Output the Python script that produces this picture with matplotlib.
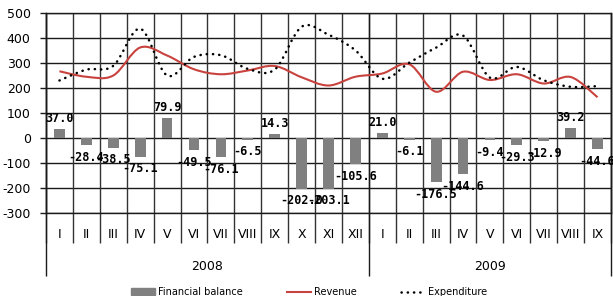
import numpy as np
import matplotlib.pyplot as plt
from matplotlib.path import Path
from matplotlib.patches import PathPatch, Patch
from matplotlib.lines import Line2D

plt.rcParams["axes.unicode_minus"] = False

# months, 2008 I..XII and 2009 I..IX
months = ["I", "II", "III", "IV", "V", "VI", "VII", "VIII", "IX", "X", "XI", "XII",
          "I", "II", "III", "IV", "V", "VI", "VII", "VIII", "IX"]
years = ["2008", "2009"]
year_len = [12, 9]

balance = [37.0, -28.4, -38.5, -75.1, 79.9, -49.5, -76.1, -6.5, 14.3, -202.0, -203.1, -105.6,
           21.0, -6.1, -176.5, -144.6, -9.4, -29.3, -12.9, 39.2, -44.6]
revenue = [267, 245, 250, 362, 330, 275, 255, 270, 288, 243, 210, 245,
           258, 295, 185, 265, 232, 255, 218, 244, 163]
expenditure = [230, 273.4, 288.5, 437.1, 250.1, 324.5, 331.1, 276.5, 273.7, 445, 413.1, 350.6,
               237, 301.1, 361.5, 409.6, 241.4, 284.3, 230.9, 204.8, 207.6]

RED = "#C8423E"
GREY = "#808080"
LINE = "#1a1a1a"
VLINE = "#333333"


def smooth_path(x, y):
    # excel-like smoothed line, drawn as bezier segments
    pts = np.column_stack([x, y]).astype(float)
    n = len(pts)
    verts = [pts[0]]
    codes = [Path.MOVETO]
    for i in range(n - 1):
        p0 = pts[max(i - 1, 0)]
        p1 = pts[i]
        p2 = pts[i + 1]
        p3 = pts[min(i + 2, n - 1)]
        verts += [p1 + (p2 - p0) / 6, p2 - (p3 - p1) / 6, p2]
        codes += [Path.CURVE4] * 3
    return Path(verts, codes)


W, H = 613, 296
fig = plt.figure(figsize=(W / 100, H / 100), dpi=100)
ax = fig.add_axes([46 / W, 1 - 213 / H, (611 - 46) / W, 200 / H])

x = np.arange(len(months))
ax.set_xlim(-0.5, len(months) - 0.5)
ax.set_ylim(-300, 500)
ax.set_yticks(np.arange(-300, 501, 100))
ax.tick_params(axis="y", labelsize=9, length=4, width=1, color=LINE, pad=7)
ax.set_xticks([])
ax.yaxis.grid(True, color=LINE, lw=1)
ax.set_axisbelow(True)
for s in ax.spines.values():
    s.set_color(LINE)
    s.set_linewidth(1)

ax.bar(x, balance, width=0.4, color=GREY, zorder=2)

for xi, v in zip(x, balance):
    if v >= 0:
        ax.annotate(f"{v:.1f}", (xi, v), xytext=(0, 3), textcoords="offset points",
                    ha="center", va="bottom", fontsize=8.5, fontweight="bold",
                    family="DejaVu Sans Mono", zorder=5)
    else:
        ax.annotate(f"{v:.1f}", (xi, v), xytext=(0, -4), textcoords="offset points",
                    ha="center", va="top", fontsize=8.5, fontweight="bold",
                    family="DejaVu Sans Mono", zorder=5)

ax.add_patch(PathPatch(smooth_path(x, revenue), fill=False, edgecolor=RED, lw=1.5, zorder=3))
ax.add_patch(PathPatch(smooth_path(x, expenditure), fill=False, edgecolor="black", lw=1.8,
                       linestyle=(0, (0.1, 2.4)), capstyle="round", zorder=4))

# category area below the plot
tr = ax.get_xaxis_transform()
bounds = np.arange(len(months) + 1) - 0.5
ax.vlines(bounds, -0.15, 1, colors=VLINE, lw=1, transform=tr, clip_on=False, zorder=1)
year_bounds = np.concatenate([[0], np.cumsum(year_len)]) - 0.5
ax.vlines(year_bounds, -0.315, 1, colors=LINE, lw=1, transform=tr, clip_on=False, zorder=1)

for xi, m in zip(x, months):
    ax.text(xi, -0.11, m, transform=tr, ha="center", va="center", fontsize=9)
for i, y in enumerate(years):
    ax.text((year_bounds[i] + year_bounds[i + 1]) / 2, -0.265, y, transform=tr,
            ha="center", va="center", fontsize=9)

handles = [Patch(color=GREY),
           Line2D([], [], color=RED, lw=1.5),
           Line2D([], [], color="black", lw=1.8, linestyle=(0, (0.1, 2.4)), dash_capstyle="round")]
fig.legend(handles, ["Financial balance", "Revenue", "Expenditure"], loc="center",
           bbox_to_anchor=(309 / W, 4 / H), ncol=3, frameon=False, fontsize=7,
           handlelength=2.5, handletextpad=0.3, columnspacing=4.5, borderpad=0)

fig.savefig("out.png", dpi=100)
